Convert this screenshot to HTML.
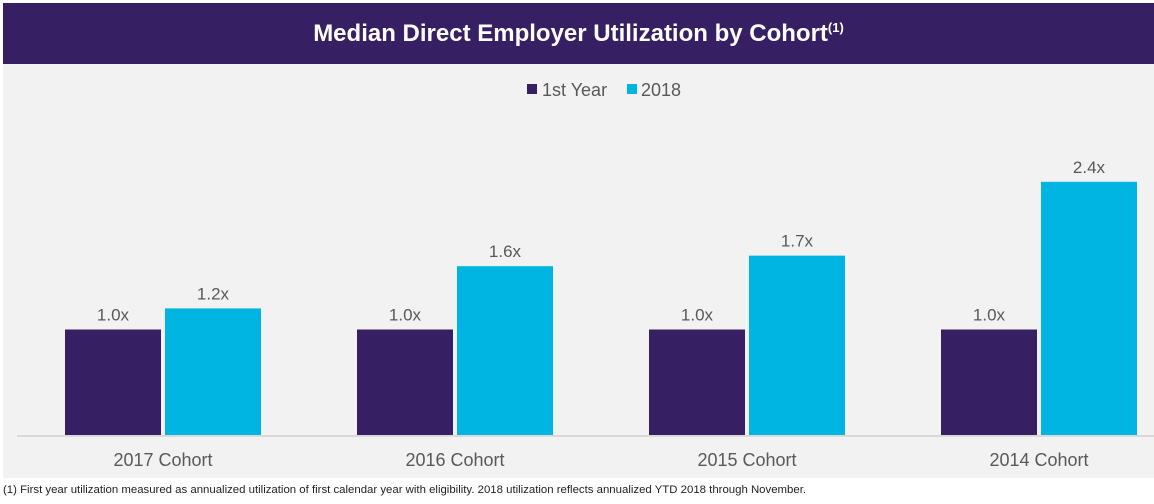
<!DOCTYPE html>
<html><head><meta charset="utf-8"><style>
body{margin:0;width:1154px;height:504px;background:#fff;overflow:hidden;font-family:"Liberation Sans",sans-serif;position:relative}
</style></head><body>
<div style="position:absolute;left:3px;top:3px;width:1151px;height:61px;background:#361f63"></div>
<div style="position:absolute;left:3px;top:3px;width:1151px;height:61px;line-height:61px;text-align:center;color:#fff;font-size:24px;font-weight:bold">Median Direct Employer Utilization by Cohort<sup style="font-size:13px;line-height:0">(1)</sup></div>
<div style="position:absolute;left:3px;top:64px;width:1151px;height:414px;background:#f2f2f2"></div>
<svg id="chart" width="1154" height="504" style="position:absolute;left:0;top:0">
<g>
<rect x="527" y="84" width="10" height="10" fill="#361f63"/>
<text x="542" y="96" font-size="18" fill="#595959">1st Year</text>
<rect x="627" y="84" width="10" height="10" fill="#00b5e2"/>
<text x="641" y="96" font-size="18" fill="#595959">2018</text>
</g>
<line x1="17" y1="436" x2="1154" y2="436" stroke="#d9d9d9" stroke-width="2"/>
<g id="bars"></g>
</svg>
<div style="position:absolute;left:3px;top:484px;font-size:11.4px;color:#222;white-space:nowrap">(1) First year utilization measured as annualized utilization of first calendar year with eligibility. 2018 utilization reflects annualized YTD 2018 through November.</div>
<script>
const categories=["2017 Cohort","2016 Cohort","2015 Cohort","2014 Cohort"];
const firstYear=[1.0,1.0,1.0,1.0];
const y2018=[1.2,1.6,1.7,2.4];
const valueLabels1=["1.0x","1.0x","1.0x","1.0x"];
const valueLabels2=["1.2x","1.6x","1.7x","2.4x"];
const ns="http://www.w3.org/2000/svg";
const g=document.getElementById('bars');
const base=435, unit=105.5, step=292, start=17, bw=96;
function yS(v){return base-v*unit;}
function xC(i){return start+step*i+step/2;}
function mk(t,a){const e=document.createElementNS(ns,t);for(const k in a)e.setAttribute(k,a[k]);g.appendChild(e);return e;}
categories.forEach((c,i)=>{
  const cx=xC(i);
  [[firstYear,valueLabels1,"#361f63",cx-bw-2,"first-year"],[y2018,valueLabels2,"#00b5e2",cx+2,"2018"]].forEach(([arr,lab,col,x,nm])=>{
    const r=mk('rect',{x:x,y:yS(arr[i]),width:bw,height:base-yS(arr[i]),fill:col});
    
    
    const t=mk('text',{x:x+bw/2,y:yS(arr[i])-9,'text-anchor':'middle','font-size':'17',fill:'#595959'});
    t.textContent=lab[i];
    
    
  });
  const l=mk('text',{x:cx,y:466,'text-anchor':'middle','font-size':'18',fill:'#595959'});
  l.textContent=c;
  
  
});
</script>
</body></html>
